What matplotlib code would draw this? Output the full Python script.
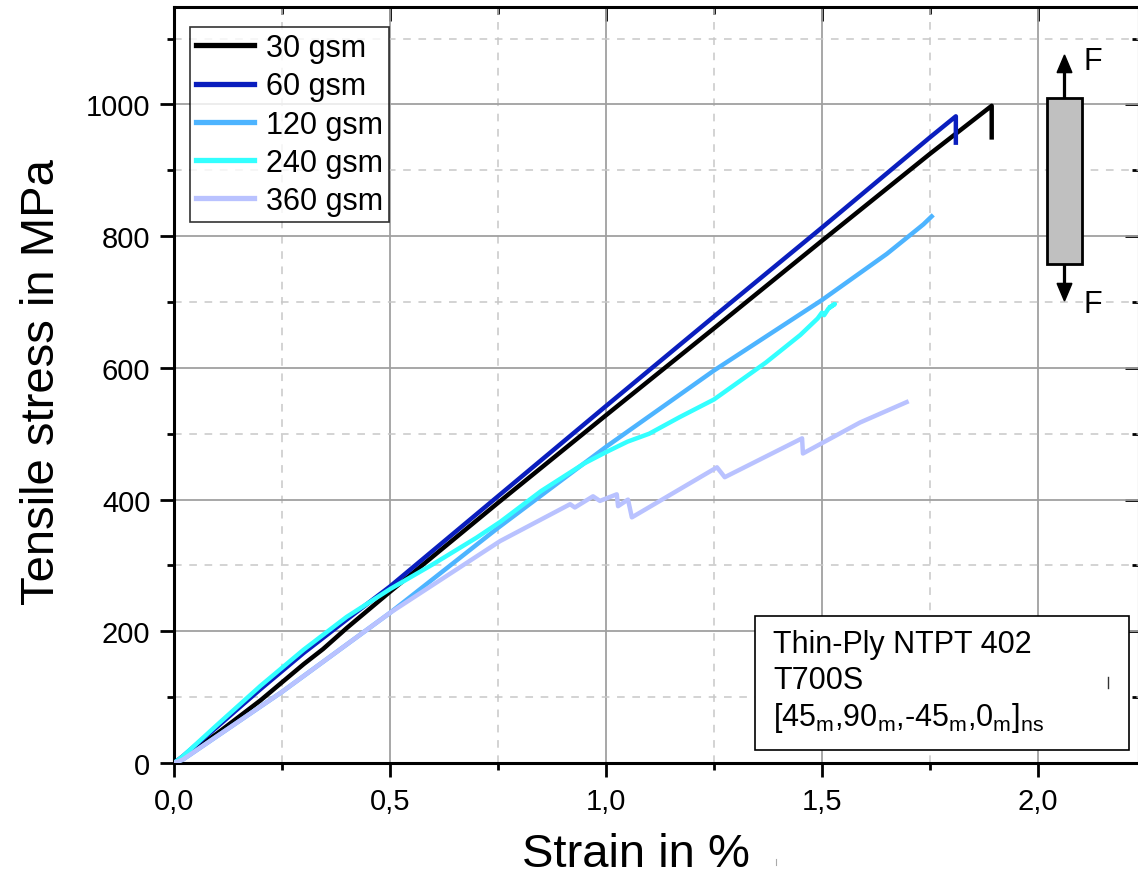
import matplotlib
matplotlib.use("Agg")
import matplotlib.pyplot as plt
import numpy as np
from matplotlib.ticker import MultipleLocator, FuncFormatter
from matplotlib.patches import Rectangle, FancyArrow
from matplotlib.lines import Line2D

plt.rcParams['font.family'] = ['Liberation Sans', 'DejaVu Sans']
plt.rcParams['mathtext.fontset'] = 'custom'
plt.rcParams['mathtext.rm'] = 'Liberation Sans'
plt.rcParams['mathtext.it'] = 'Liberation Sans'

# ---- data (strain in %, stress in MPa) ----
labels = ["30 gsm", "60 gsm", "120 gsm", "240 gsm", "360 gsm"]
colors = ["#000000", "#0a1ebe", "#4db4ff", "#33ffff", "#b9c2ff"]

strain_30 = [0.0, 0.02, 0.1, 0.2, 0.3, 0.345, 0.4, 0.5, 0.75, 1.0, 1.25, 1.5, 1.75, 1.893, 1.893]
stress_30 = [0, 8, 45, 95, 150, 173, 205, 260, 395, 528, 660, 793, 925, 998, 950]

strain_60 = [0.0, 0.02, 0.1, 0.2, 0.3, 0.42, 0.5, 0.75, 1.0, 1.25, 1.5, 1.75, 1.81, 1.81]
stress_60 = [0, 10, 55, 112, 167, 228, 268, 405, 542, 678, 813, 950, 982, 942]

strain_120 = [0.0, 0.02, 0.25, 0.5, 0.75, 1.0, 1.25, 1.5, 1.65, 1.72, 1.735, 1.754]
stress_120 = [0, 5, 108, 228, 357, 480, 596, 703, 773, 810, 818, 830]

strain_240 = [0.0, 0.02, 0.1, 0.2, 0.3, 0.4, 0.5, 0.6, 0.7, 0.755, 0.85, 0.95, 1.0,
              1.05, 1.1, 1.17, 1.25, 1.37, 1.45, 1.49, 1.50, 1.505, 1.515, 1.53, 1.52]
stress_240 = [0, 10, 58, 117, 172, 222, 264, 302, 342, 366, 413, 455, 472,
              488, 500, 525, 552, 608, 650, 675, 684, 680, 690, 697, 693]

strain_360 = [0.0, 0.02, 0.25, 0.5, 0.755, 0.917, 0.928, 0.97, 0.986, 1.025, 1.028,
              1.051, 1.06, 1.257, 1.275, 1.454, 1.456, 1.588, 1.696]
stress_360 = [0, 5, 108, 228, 337, 393, 388, 405, 398, 408, 390,
              400, 373, 449, 434, 493, 470, 517, 548]

series_x = [strain_30, strain_60, strain_120, strain_240, strain_360]
series_y = [stress_30, stress_60, stress_120, stress_240, stress_360]

W, H = 1138, 879
fig = plt.figure(figsize=(W / 100, H / 100), dpi=100)

def fx(px):
    return px / W

def fy(py):
    return 1 - py / H

AX_L, AX_R, AX_T, AX_B = 174, 1139, 8, 764
ax = fig.add_axes([fx(AX_L), fy(AX_B), fx(AX_R) - fx(AX_L), fy(AX_T) - fy(AX_B)])

def ax_x(px):
    return (px - AX_L) / (AX_R - AX_L)

def ax_y(py):
    return (AX_B - py) / (AX_B - AX_T)

for xs, ys, c, lab in zip(series_x, series_y, colors, labels):
    ax.plot(xs, ys, color=c, lw=3.2, label=lab, solid_joinstyle='round', zorder=3)

ax.set_xlim(0, 2.234)
ax.set_ylim(0, 1148)

ax.xaxis.set_major_locator(MultipleLocator(0.5))
ax.xaxis.set_minor_locator(MultipleLocator(0.25))
ax.yaxis.set_major_locator(MultipleLocator(200))
ax.yaxis.set_minor_locator(MultipleLocator(100))
ax.xaxis.set_major_formatter(FuncFormatter(lambda v, p: f"{v:.1f}".replace(".", ",")))
ax.yaxis.set_major_formatter(FuncFormatter(lambda v, p: f"{int(round(v))}"))

ax.grid(which='major', color='#a0a0a0', lw=1.3, ls='-', zorder=0)
ax.grid(which='minor', color='#c8c8c8', lw=1.1, ls=(0, (5, 5)), zorder=0)
ax.set_axisbelow(True)

for s in ax.spines.values():
    s.set_linewidth(2.2)

ax.tick_params(axis='both', which='major', direction='out', length=10, width=2,
               labelsize=21, pad=7)
ax.tick_params(axis='both', which='minor', direction='out', length=5, width=2)

secx = ax.secondary_xaxis('top')
secx.xaxis.set_major_locator(MultipleLocator(0.5))
secx.xaxis.set_minor_locator(MultipleLocator(0.25))
secx.tick_params(which='major', direction='in', length=10, width=2, labeltop=False)
secx.tick_params(which='minor', direction='in', length=5, width=2)
secx.set_xticklabels([])
secy = ax.secondary_yaxis('right')
secy.yaxis.set_major_locator(MultipleLocator(200))
secy.yaxis.set_minor_locator(MultipleLocator(100))
secy.tick_params(which='major', direction='in', length=10, width=2, labelright=False)
secy.tick_params(which='minor', direction='in', length=5, width=2)
secy.set_yticklabels([])

ax.set_xlabel("Strain in %", fontsize=34)
ax.xaxis.set_label_coords(ax_x(636), ax_y(855))
ax.xaxis.label.set_va('center')
ax.set_ylabel("Tensile stress in MPa", fontsize=34)
ax.yaxis.set_label_coords(ax_x(42), ax_y(382))
ax.yaxis.label.set_va('center')

leg = ax.legend(loc='upper left', bbox_to_anchor=(ax_x(190), ax_y(28)),
                fontsize=22, frameon=True, fancybox=False, borderpad=0.2,
                labelspacing=0.27, handlelength=1.9, handletextpad=0.38, borderaxespad=0)
leg.get_frame().set_edgecolor('black')
leg.get_frame().set_linewidth(1.2)
for l in leg.get_lines():
    l.set_linewidth(3.8)

# specimen sketch
rect = Rectangle((fx(1047), fy(265)), fx(1082) - fx(1047), fy(99) - fy(265),
                 transform=fig.transFigure, facecolor='#c0c0c0', edgecolor='black', lw=2, zorder=5)
fig.patches.append(rect)
cx = fx(1064.5)
fig.add_artist(FancyArrow(cx, fy(99), 0, fy(56) - fy(99), width=0.0016, head_width=0.013,
                          head_length=0.02, length_includes_head=True, color='black',
                          transform=fig.transFigure))
fig.add_artist(FancyArrow(cx, fy(265), 0, fy(302) - fy(265), width=0.0016, head_width=0.013,
                          head_length=0.02, length_includes_head=True, color='black',
                          transform=fig.transFigure))
fig.text(fx(1084), fy(62), "F", fontsize=22, ha='left', va='center')
fig.text(fx(1084), fy(305), "F", fontsize=22, ha='left', va='center')

# info box
fig.patches.append(Rectangle((fx(755), fy(751)), fx(1129) - fx(755), fy(617) - fy(751),
                             transform=fig.transFigure, facecolor='white', edgecolor='black',
                             lw=1.2, zorder=5))
fig.text(fx(773), fy(645), "Thin-Ply NTPT 402", fontsize=22, ha='left', va='center', zorder=6)
fig.text(fx(773), fy(681), "T700S", fontsize=22, ha='left', va='center', zorder=6)
fig.text(fx(773), fy(718),
         r"[45$_\mathrm{m}$,90$_\mathrm{m}$,-45$_\mathrm{m}$,0$_\mathrm{m}$]$_\mathrm{ns}$",
         fontsize=22, ha='left', va='center', zorder=6)
fig.add_artist(Line2D([fx(1108), fx(1108)], [fy(678), fy(689)], color='#333333', lw=1,
                      transform=fig.transFigure, zorder=7))
fig.add_artist(Line2D([fx(775.5), fx(775.5)], [fy(860), fy(866)], color='#aaaaaa', lw=0.8,
                      transform=fig.transFigure))

fig.savefig("out.png", dpi=100)
